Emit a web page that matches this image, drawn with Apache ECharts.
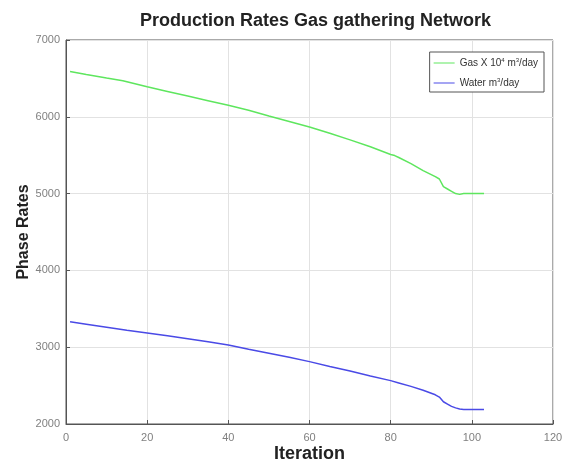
<!DOCTYPE html>
<html><head><meta charset="utf-8">
<script src="https://cdn.jsdelivr.net/npm/echarts@6/dist/echarts.min.js"></script>
<style>html,body{margin:0;padding:0;background:#fff}#c{width:562px;height:463px}</style>
</head><body><div id="c"></div>
<script>
const gasIter = [1, 5, 10, 14, 20, 25, 30, 35, 40, 45, 50, 55, 60, 65, 70, 75, 80, 81, 82, 85, 88, 91, 92, 93, 94, 95, 96, 97, 98, 100, 103];
const gasValues = [6590, 6550, 6505, 6470, 6390, 6330, 6270, 6210, 6150, 6085, 6010, 5940, 5868, 5785, 5700, 5610, 5510, 5495, 5470, 5390, 5300, 5220, 5190, 5090, 5060, 5030, 5000, 4990, 5000, 5000, 5000];
const waterIter = [1, 5, 10, 15, 20, 25, 30, 35, 40, 45, 50, 55, 60, 65, 70, 75, 80, 82, 85, 88, 91, 92, 93, 94, 95, 96, 97, 98, 100, 103];
const waterValues = [3330, 3300, 3260, 3220, 3185, 3148, 3110, 3070, 3030, 2972, 2920, 2868, 2812, 2750, 2690, 2625, 2565, 2535, 2490, 2440, 2380, 2350, 2290, 2260, 2230, 2210, 2195, 2190, 2190, 2190];
const xTicks = [0, 20, 40, 60, 80, 100, 120];
const yTicks = [2000, 3000, 4000, 5000, 6000, 7000];
const gasName = 'Gas X 10{sup|4} m{sup|3}/day';
const waterName = 'Water m{sup|3}/day';

const chart = echarts.init(document.getElementById('c'));
const axisCommon = {
  axisLine: {show: true, lineStyle: {color: '#555', width: 1}},
  axisTick: {show: true, inside: true, length: 4, lineStyle: {color: '#555'}},
  splitLine: {show: true, lineStyle: {color: '#e2e2e2', width: 1}},
  axisLabel: {color: '#808080', fontSize: 11, fontFamily: 'Liberation Sans', formatter: v => String(v)},
  nameMoveOverlap: false
};
chart.setOption({
  animation: false,
  title: {text: 'Production Rates Gas gathering Network', left: 135, top: 7,
    textStyle: {fontSize: 18, fontWeight: 'bold', color: '#222', fontFamily: 'Liberation Sans'}},
  grid: {left: 66, right: 9, top: 40, bottom: 39, show: true, borderColor: '#555', borderWidth: 1,
    containLabel: false, outerBoundsMode: 'none'},
  legend: {
    orient: 'vertical', right: 18, top: 52, backgroundColor: '#fff',
    borderColor: '#555', borderWidth: 1, padding: [5, 6, 4, 4], itemGap: 9,
    itemWidth: 21, itemHeight: 10,
    textStyle: {fontSize: 10, color: '#333', fontFamily: 'Liberation Sans',
      rich: {sup: {fontSize: 6, color: '#333', fontFamily: 'Liberation Sans', verticalAlign: 'top', padding: [0, 0, 6, 0]}}},
    data: [{name: gasName, icon: 'path://M0,4.5 L21,4.5 L21,5.5 L0,5.5 Z'},
           {name: waterName, icon: 'path://M0,4.5 L21,4.5 L21,5.5 L0,5.5 Z'}]
  },
  xAxis: Object.assign({}, axisCommon, {
    type: 'value', min: xTicks[0], max: xTicks[xTicks.length - 1], interval: 20,
    name: 'Iteration', nameLocation: 'middle', nameGap: 21,
    nameTextStyle: {fontSize: 18, fontWeight: 'bold', color: '#222', fontFamily: 'Liberation Sans'},
    axisLabel: Object.assign({}, axisCommon.axisLabel, {margin: 8})
  }),
  yAxis: Object.assign({}, axisCommon, {
    type: 'value', min: yTicks[0], max: yTicks[yTicks.length - 1], interval: 1000,
    name: 'Phase Rates', nameLocation: 'middle', nameGap: 34,
    nameTextStyle: {fontSize: 16, fontWeight: 'bold', color: '#222', fontFamily: 'Liberation Sans'},
    axisLabel: Object.assign({}, axisCommon.axisLabel, {margin: 6})
  }),
  series: [
    {name: gasName, type: 'line', symbol: 'none', smooth: false,
     lineStyle: {color: '#5ee65e', width: 1.5}, itemStyle: {color: '#5ee65e'},
     data: gasIter.map((x, i) => [x, gasValues[i]])},
    {name: waterName, type: 'line', symbol: 'none', smooth: false,
     lineStyle: {color: '#4a4ae6', width: 1.5}, itemStyle: {color: '#4a4ae6'},
     data: waterIter.map((x, i) => [x, waterValues[i]])}
  ]
});
</script></body></html>
